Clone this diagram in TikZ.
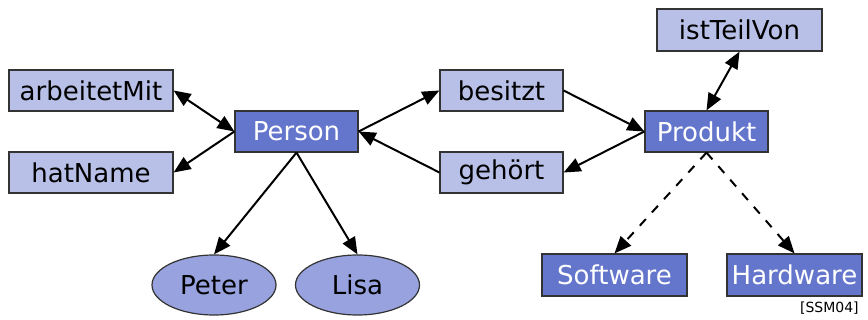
\documentclass[tikz,border=0pt]{standalone}
\usepackage{fontspec}
\setmainfont{DejaVu Sans}
\usetikzlibrary{arrows.meta,shapes.geometric}
\definecolor{attrfill}{RGB}{184,192,232}
\definecolor{classfill}{RGB}{100,118,204}
\definecolor{instfill}{RGB}{151,162,222}
\tikzset{
  box/.style={draw=black!80,line width=1.2pt,inner sep=0pt,minimum height=41pt,
    font=\fontsize{26}{30}\selectfont},
  attr/.style={box,rectangle,fill=attrfill},
  klasse/.style={box,rectangle,fill=classfill,text=white},
  inst/.style={box,ellipse,fill=instfill,minimum width=124pt,minimum height=60pt},
  >={Triangle[length=17pt,width=14pt]},
}
\begin{document}
\begin{tikzpicture}[x=1pt,y=-1pt,line width=2pt]
  \useasboundingbox (0,0) rectangle (868,320);
  \node[attr,minimum width=164pt](arbeitetMit) at (91,90.5){arbeitetMit};
  \node[attr,minimum width=164pt](hatName) at (91,172.5){hatName};
  \node[klasse,minimum width=123pt](person) at (296.5,131.5){Person};
  \node[attr,minimum width=123pt](besitzt) at (501.5,90.5){besitzt};
  \node[attr,minimum width=123pt](gehoert) at (501.5,172.5){gehört};
  \node[attr,minimum width=165pt,minimum height=42pt](istTeilVon) at (739.5,30){istTeilVon};
  \node[klasse,minimum width=123pt](produkt) at (706.5,131.5){Produkt};
  \node[klasse,minimum width=145pt,minimum height=42pt](software) at (614.5,275){Software};
  \node[klasse,minimum width=135pt,minimum height=42pt](hardware) at (794.5,275){Hardware};
  \node[inst](peter) at (214,285){Peter};
  \node[inst](lisa) at (357.5,285){Lisa};
  \node[font=\fontsize{14}{16}\selectfont,anchor=east](quelle) at (863,308){[SSM04]};
  % Person
  \draw[<->](arbeitetMit.east)--(person.west);
  \draw[->](person.west)--(hatName.east);
  \draw[->](person.east)--(besitzt.west);
  \draw[->](gehoert.west)--(person.east);
  \draw[->](person.south)--(peter.north);
  \draw[->](person.south)--(lisa.north);
  % Produkt
  \draw[->](besitzt.east)--(produkt.west);
  \draw[->](produkt.west)--(gehoert.east);
  \draw[<->](produkt.north)--(istTeilVon.south);
  \draw[->,dashed,dash pattern=on 9pt off 9pt](produkt.south)--(software.north);
  \draw[->,dashed,dash pattern=on 9pt off 9pt](produkt.south)--(hardware.north);
\end{tikzpicture}
\end{document}
